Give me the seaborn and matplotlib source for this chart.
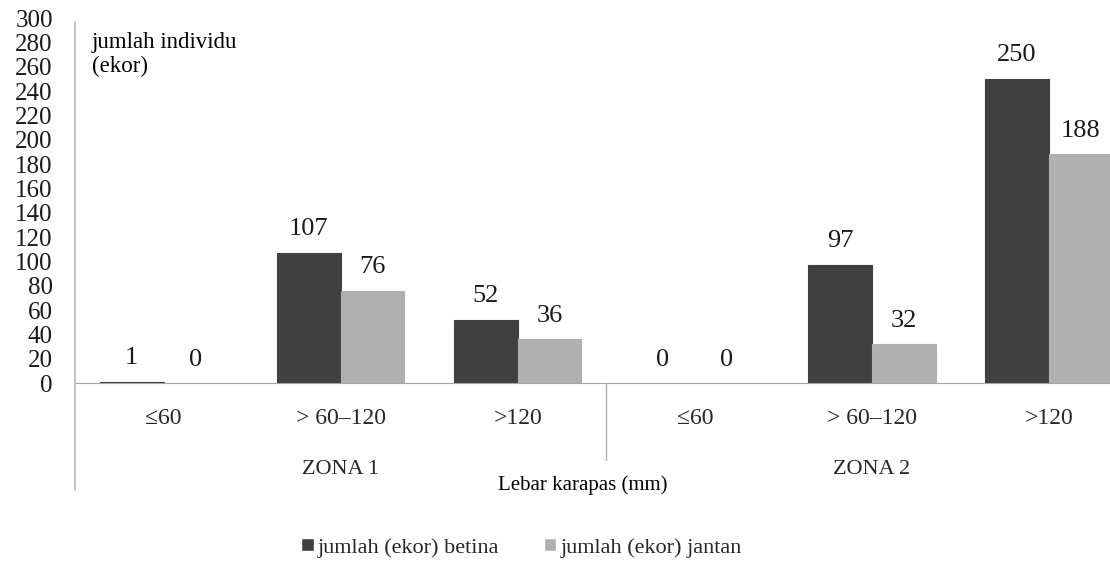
import pandas as pd
import matplotlib.pyplot as plt
import seaborn as sns

sns.set_style('white')
plt.rcParams['font.family'] = ['Liberation Serif', 'DejaVu Serif']

# data
zones = ['ZONA 1', 'ZONA 2']
size_classes = ['≤60', '> 60–120', '>120']
series_names = ['jumlah (ekor) betina', 'jumlah (ekor) jantan']
betina = [1, 107, 52, 0, 97, 250]
jantan = [0, 76, 36, 0, 32, 188]
y_ticks = list(range(0, 301, 20))

keys = [f'{z} {s}' for z in zones for s in size_classes]
df = pd.DataFrame({
    'kelas': keys * 2,
    'jumlah': betina + jantan,
    'jenis': [series_names[0]] * 6 + [series_names[1]] * 6,
})

fig = plt.figure(figsize=(11.10, 5.67), dpi=100)
ax = fig.add_axes([0.0676, 0.3245, 0.9324, 0.6437])

sns.barplot(data=df, x='kelas', y='jumlah', hue='jenis', order=keys,
            palette=['#404040', '#b0b0b0'], saturation=1, width=0.72,
            errorbar=None, ax=ax)

handles, labels = ax.get_legend_handles_labels()
ax.get_legend().remove()

# thin outline in the bar's own colour so the tiny "1" bar still shows
for p in ax.patches:
    if p.get_height() > 0:
        p.set_edgecolor(p.get_facecolor())
        p.set_linewidth(0.8)

for cont in ax.containers:
    ax.bar_label(cont, fmt='%d', padding=9, fontsize=19, color='#1a1a1a')

ax.set_xlim(-0.5, 5.345)
ax.set_ylim(0, 300)
ax.set_yticks(y_ticks)
ax.tick_params(axis='y', labelsize=18, length=0, pad=16, labelcolor='#1a1a1a')
ax.set_xticks(range(len(keys)))
ax.set_xticklabels(size_classes * 2)
ax.tick_params(axis='x', labelsize=17, length=0, pad=18, labelcolor='#262626')
ax.set_xlabel('')
ax.set_ylabel('')

for side in ['top', 'right', 'left']:
    ax.spines[side].set_visible(False)
ax.spines['bottom'].set_color('#a6a6a6')
ax.spines['bottom'].set_zorder(0.5)
# left axis line runs down through the category area
ax.plot([0, 0], [-0.293, 0.99], transform=ax.transAxes, color='#c0c0c0',
        lw=1.3, clip_on=False)
# divider between the two zones
ax.plot([2.5, 2.5], [0, -0.21], transform=ax.get_xaxis_transform(),
        color='#b0b0b0', lw=1.0, clip_on=False)

for i, z in enumerate(zones):
    ax.text(1 + 3 * i, -0.238, z, transform=ax.get_xaxis_transform(),
            ha='center', va='center', fontsize=16, color='#262626')

ax.text(0.491, -0.279, 'Lebar karapas (mm)', transform=ax.transAxes,
        ha='center', va='center', fontsize=15, color='black')
ax.text(0.016, 0.90, 'jumlah individu\n(ekor)', transform=ax.transAxes,
        ha='left', va='center', fontsize=16.5, color='black', linespacing=1.15)

fig.legend(handles, labels, loc='center', bbox_to_anchor=(0.47, 0.034),
           ncol=2, frameon=False, fontsize=16, handlelength=0.55,
           handleheight=0.55, handletextpad=0.2, columnspacing=2.0)

plt.savefig('out.png', dpi=100)
